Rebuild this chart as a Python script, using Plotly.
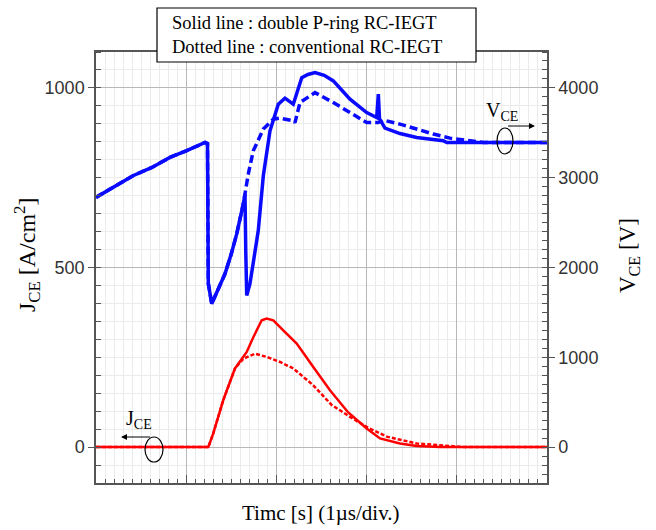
import plotly.graph_objects as go

# ---- data (time in µs, J in A/cm^2, V in V) ----
t_vce_dp = [0, 0.19, 0.41, 0.62, 0.82, 1.0, 1.21, 1.236, 1.24, 1.245, 1.283, 1.43, 1.50, 1.56, 1.633,
            1.652, 1.66, 1.671, 1.707, 1.799, 1.855, 1.929, 2.021, 2.095, 2.187, 2.281, 2.35, 2.428,
            2.53, 2.631, 2.816, 3.001, 3.112, 3.13, 3.143, 3.204, 3.37, 3.555, 3.85, 3.888, 5.0]
vce_dp = [2781, 2892, 3022, 3114, 3226, 3300, 3392, 3380, 2840, 1822, 1597, 1930, 2152, 2374, 2708,
          2819, 2200, 1689, 1819, 2411, 3022, 3522, 3819, 3886, 3819, 4114, 4150, 4170,
          4140, 4078, 3874, 3726, 3670, 3930, 3656, 3552, 3492, 3448, 3411, 3392, 3392]

t_vce_conv = [0, 0.19, 0.41, 0.62, 0.82, 1.0, 1.21, 1.236, 1.24, 1.245, 1.283, 1.43, 1.50, 1.56, 1.633,
              1.688, 1.744, 1.855, 1.966, 2.040, 2.187, 2.206, 2.262, 2.428, 2.631, 2.816, 3.001,
              3.130, 3.185, 3.370, 3.555, 3.740, 3.925, 4.183, 4.294, 5.0]
vce_conv = [2781, 2892, 3022, 3114, 3226, 3300, 3392, 3380, 2840, 1822, 1597, 1930, 2152, 2374, 2708,
            3041, 3300, 3541, 3652, 3663, 3633, 3614, 3837, 3948, 3837, 3726, 3614,
            3614, 3641, 3597, 3541, 3486, 3441, 3411, 3392, 3392]

t_jce_dp = [0, 1.245, 1.300, 1.411, 1.541, 1.671, 1.744, 1.837, 1.892, 1.966, 2.076, 2.225, 2.409,
            2.594, 2.794, 3.001, 3.149, 3.370, 3.555, 3.814, 5.0]
jce_dp = [0, 0, 38, 131, 219, 265, 306, 353, 358, 353, 325, 288, 223,
          158, 97, 52, 24, 10, 3, 0, 0]

t_jce_conv = [0, 1.245, 1.300, 1.411, 1.541, 1.633, 1.763, 1.892, 2.040, 2.187, 2.409, 2.61, 2.816,
              3.001, 3.223, 3.555, 3.925, 4.072, 5.0]
jce_conv = [0, 0, 38, 131, 219, 246, 260, 251, 237, 219, 172, 118, 84,
            56, 29, 10, 3, 0, 0]

j_ticks = [0, 500, 1000]
v_ticks = [0, 1000, 2000, 3000, 4000]

legend_lines = ["Solid line : double P-ring RC-IEGT", "Dotted line : conventional RC-IEGT"]

# ---- layout geometry helpers (pixel -> paper) ----
W, H = 656, 530
L, R, T, B = 96, 547, 52, 483
def px(x):
    return (x - L) / (R - L)
def py(y):
    return (B - y) / (B - T)

BLUE = "#0a0aff"
RED = "#ff0000"
SERIF = "Liberation Serif"
SANS = "Liberation Sans"

fig = go.Figure()
fig.add_trace(go.Scatter(x=t_jce_conv, y=jce_conv, mode="lines", yaxis="y",
                         line=dict(color=RED, width=2.5, dash="4px,2px"), showlegend=False))
fig.add_trace(go.Scatter(x=t_jce_dp, y=jce_dp, mode="lines", yaxis="y",
                         line=dict(color=RED, width=2.5), showlegend=False))
fig.add_trace(go.Scatter(x=t_vce_conv, y=vce_conv, mode="lines", yaxis="y2",
                         line=dict(color=BLUE, width=3.5, dash="8px,4px"), showlegend=False))
fig.add_trace(go.Scatter(x=t_vce_dp, y=vce_dp, mode="lines", yaxis="y2",
                         line=dict(color=BLUE, width=3.5), showlegend=False))

axis_line = "#555555"
fig.update_layout(
    width=W, height=H,
    margin=dict(l=L, r=W - R, t=T, b=H - B, pad=0),
    paper_bgcolor="white", plot_bgcolor="white",
    xaxis=dict(range=[0, 5], dtick=1, tick0=0, showticklabels=False,
               showgrid=True, gridcolor="#b8b8b8", gridwidth=1,
               ticks="inside", ticklen=8, tickcolor=axis_line,
               minor=dict(dtick=0.1, tick0=0, showgrid=True, gridcolor="#ebebeb",
                          ticks="inside", ticklen=4, tickcolor=axis_line),
               showline=True, linecolor=axis_line, linewidth=1.5, mirror=True,
               zeroline=False),
    yaxis=dict(range=[-100, 1100], tickvals=j_ticks, ticktext=[str(v) for v in j_ticks],
               showgrid=True, gridcolor="#b8b8b8", gridwidth=1,
               ticks="outside", ticklen=6, tickcolor=axis_line,
               minor=dict(dtick=50, tick0=0, showgrid=True, gridcolor="#ebebeb",
                          ticks="inside", ticklen=5, tickcolor=axis_line),
               showline=True, linecolor=axis_line, linewidth=1.5,
               zeroline=False,
               tickfont=dict(family=SANS, size=18, color="#333333")),
    yaxis2=dict(range=[-400, 4400], tickvals=v_ticks, ticktext=[str(v) for v in v_ticks],
                overlaying="y", side="right", showgrid=False,
                ticks="outside", ticklen=6, tickcolor=axis_line,
                minor=dict(dtick=100, tick0=0, ticks="inside", ticklen=5, tickcolor=axis_line),
                showline=True, linecolor=axis_line, linewidth=1.5,
                zeroline=False,
                tickfont=dict(family=SANS, size=18, color="#333333")),
)

shapes = []
annotations = []

# legend box
shapes.append(dict(type="rect", xref="paper", yref="paper",
                   x0=px(157), x1=px(476), y0=py(62), y1=py(8),
                   fillcolor="white", line=dict(color="black", width=1.2), layer="above"))
for i, txt in enumerate(legend_lines):
    annotations.append(dict(text=txt, xref="paper", yref="paper", x=px(170), y=py(23 + 24 * i),
                            xanchor="left", yanchor="middle", showarrow=False,
                            font=dict(family=SERIF, size=18.5, color="black")))

# axis titles
annotations.append(dict(text="J<sub>CE</sub> [A/cm<sup>2</sup>]", xref="paper", yref="paper",
                        x=px(27), y=py(255), textangle=-90, showarrow=False,
                        xanchor="center", yanchor="middle",
                        font=dict(family=SERIF, size=24, color="black")))
annotations.append(dict(text="V<sub>CE</sub> [V]", xref="paper", yref="paper",
                        x=px(629), y=py(256), textangle=-90, showarrow=False,
                        xanchor="center", yanchor="middle",
                        font=dict(family=SERIF, size=23, color="black")))
annotations.append(dict(text="Timc [s] (1µs/div.)", xref="paper", yref="paper",
                        x=px(321), y=py(513), showarrow=False,
                        xanchor="center", yanchor="middle",
                        font=dict(family=SERIF, size=21, color="black")))

# V_CE marker
annotations.append(dict(text="V<sub>CE</sub>", xref="paper", yref="paper",
                        x=px(502), y=py(111), showarrow=False,
                        xanchor="center", yanchor="middle",
                        font=dict(family=SERIF, size=20, color="black")))
annotations.append(dict(text=" ", xref="paper", yref="paper", x=px(535), y=py(126),
                        ax=-30, ay=0, showarrow=True, arrowhead=2, arrowsize=1.2,
                        arrowwidth=1, arrowcolor="black"))
shapes.append(dict(type="circle", xref="paper", yref="paper",
                   x0=px(497), x1=px(513), y0=py(154), y1=py(128),
                   line=dict(color="black", width=1.2), layer="above"))

# J_CE marker
annotations.append(dict(text="J<sub>CE</sub>", xref="paper", yref="paper",
                        x=px(139), y=py(419), showarrow=False,
                        xanchor="center", yanchor="middle",
                        font=dict(family=SERIF, size=20, color="black")))
annotations.append(dict(text=" ", xref="paper", yref="paper", x=px(121), y=py(437),
                        ax=32, ay=0, showarrow=True, arrowhead=2, arrowsize=1.2,
                        arrowwidth=1, arrowcolor="black"))
shapes.append(dict(type="circle", xref="paper", yref="paper",
                   x0=px(145), x1=px(163), y0=py(462), y1=py(437),
                   line=dict(color="black", width=1.2), layer="above"))

fig.update_layout(shapes=shapes, annotations=annotations)

fig.write_html("out.html")
